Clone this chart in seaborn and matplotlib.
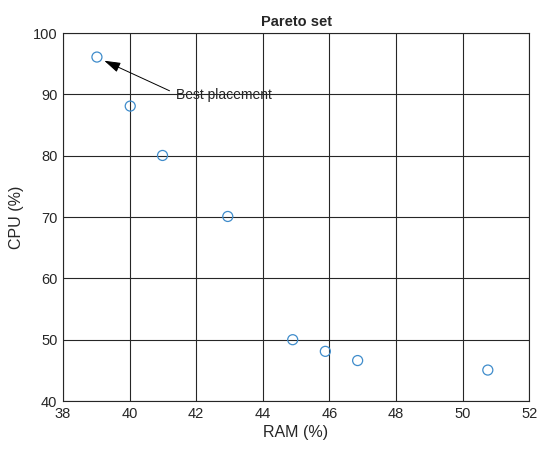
import matplotlib
matplotlib.use("Agg")
import matplotlib.pyplot as plt
import seaborn as sns

# Pareto set values
ram = [39.02, 40.02, 40.99, 42.95, 44.9, 45.88, 46.85, 50.76]
cpu = [96.1, 88.1, 80.05, 70.1, 50.0, 48.1, 46.6, 45.05]

x_ticks = [38, 40, 42, 44, 46, 48, 50, 52]
y_ticks = [40, 50, 60, 70, 80, 90, 100]

sns.set_theme(style="whitegrid")
plt.rcParams['font.family'] = ['Liberation Sans', 'DejaVu Sans']

fig = plt.figure(figsize=(5.5, 4.54), dpi=100)
ax = fig.add_axes([0.1145, 0.1167, 0.8475, 0.8103])

sns.scatterplot(
    x=ram,
    y=cpu,
    marker="o",
    s=52,
    facecolors="none",
    edgecolor="#3F8CCB",
    linewidth=0.9,
    ax=ax
)

ax.set_xlim(38, 52)
ax.set_ylim(40, 100)
ax.set_xticks(x_ticks)
ax.set_yticks(y_ticks)
ax.grid(True, color="#262626", linewidth=0.8)
ax.set_axisbelow(True)
for s in ax.spines.values():
    s.set_color("#262626")
    s.set_linewidth(0.8)
ax.tick_params(labelsize=10.5, colors="#262626", length=0, pad=4)

ax.set_title("Pareto set", fontsize=10.5, fontweight="bold", pad=5)
ax.set_xlabel("RAM (%)", fontsize=11.5, color="#262626", labelpad=3)
ax.set_ylabel("CPU (%)", fontsize=11.5, color="#262626", labelpad=6)

# arrow and label
ax.annotate(
    "",
    xy=(39.24, 95.5),
    xytext=(41.2, 90.6),
    arrowprops=dict(arrowstyle="-|>,head_length=0.9,head_width=0.28",
                    color="black", lw=0.7,
                    mutation_scale=11, shrinkA=0, shrinkB=0)
)
ax.text(41.4, 89.9, "Best placement", fontsize=10, va="center")

plt.savefig("out.png", dpi=100)
plt.close()
